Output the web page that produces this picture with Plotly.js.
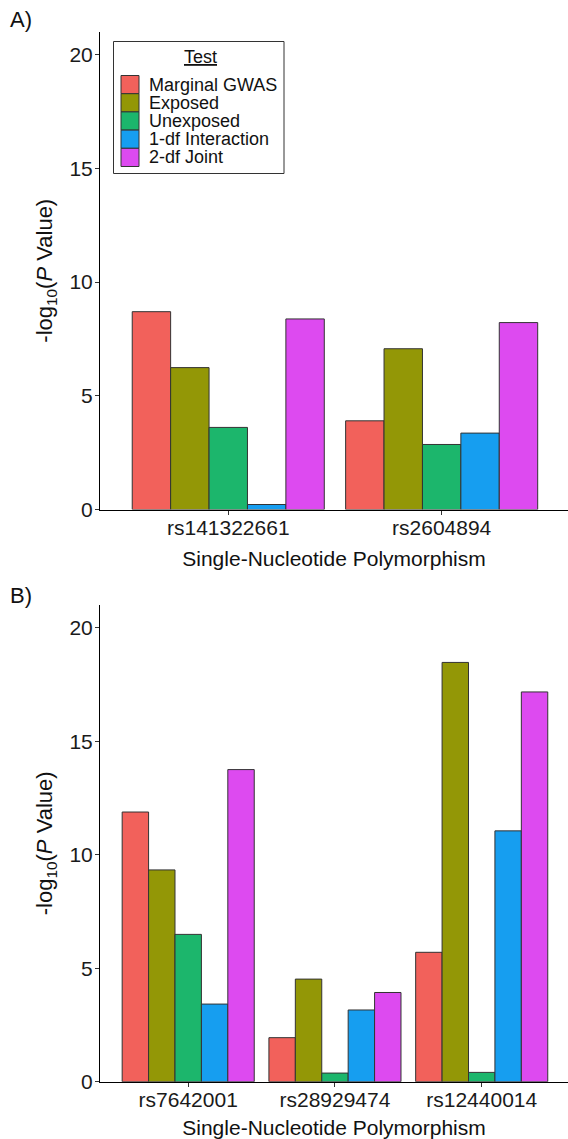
<!DOCTYPE html>
<html>
<head>
<meta charset="utf-8">
<script src="https://cdn.plot.ly/plotly-3.0.1.min.js"></script>
<style>html,body{margin:0;padding:0;background:#fff;}#chart{width:568px;height:1139px;}</style>
</head>
<body>
<div id="chart"></div>
<script>
// ---- data ----
const tests = ['Marginal GWAS', 'Exposed', 'Unexposed', '1-df Interaction', '2-df Joint'];
const colors = ['#F2615B', '#939706', '#1CB66C', '#169EF0', '#DD4AF0'];

const snpsA = ['rs141322661', 'rs2604894'];
const marginalA = [8.70, 3.90];
const exposedA = [6.24, 7.07];
const unexposedA = [3.61, 2.86];
const interactionA = [0.22, 3.36];
const jointA = [8.38, 8.22];

const snpsB = ['rs7642001', 'rs28929474', 'rs12440014'];
const marginalB = [11.88, 1.94, 5.70];
const exposedB = [9.33, 4.52, 18.47];
const unexposedB = [6.49, 0.38, 0.41];
const interactionB = [3.42, 3.16, 11.05];
const jointB = [13.75, 3.93, 17.17];

const yTicks = [0, 5, 10, 15, 20];

// ---- build ----
const seriesA = [marginalA, exposedA, unexposedA, interactionA, jointA];
const seriesB = [marginalB, exposedB, unexposedB, interactionB, jointB];
const traces = [];
tests.forEach((t, i) => {
  traces.push({
    type: 'bar', name: t, x: snpsA, y: seriesA[i], xaxis: 'x', yaxis: 'y',
    marker: {color: colors[i], line: {color: '#333333', width: 1}},
    showlegend: false, hoverinfo: 'x+y+name'
  });
  traces.push({
    type: 'bar', name: t, x: snpsB, y: seriesB[i], xaxis: 'x2', yaxis: 'y2',
    marker: {color: colors[i], line: {color: '#333333', width: 1}},
    showlegend: false, hoverinfo: 'x+y+name'
  });
});

const W = 568, H = 1139;
const fam = 'Liberation Sans, Arial, sans-serif';
const px = v => v / W;
const py = v => 1 - v / H;

function yaxis(domain, anchor) {
  return {
    domain: domain, anchor: anchor, range: [0, 21], tickvals: yTicks,
    showline: true, linecolor: '#000', linewidth: 1, mirror: false,
    ticks: 'outside', ticklen: 4, tickcolor: '#333', showgrid: false, zeroline: false,
    ticklabelstandoff: -2,
    tickfont: {family: fam, size: 21, color: '#1a1a1a'},
    title: {text: '-log<sub>10</sub>(<i>P</i> Value)', font: {family: fam, size: 22, color: '#111'}, standoff: 10},
    automargin: false, fixedrange: true
  };
}
function xaxis(domain, anchor, range) {
  return {
    domain: domain, anchor: anchor, range: range, type: 'category',
    showline: true, linecolor: '#000', linewidth: 1,
    ticks: 'outside', ticklen: 4, tickcolor: '#333', showgrid: false, zeroline: false,
    ticklabelstandoff: -5,
    tickfont: {family: fam, size: 21, color: '#1a1a1a'},
    title: {text: 'Single-Nucleotide Polymorphism', font: {family: fam, size: 21, color: '#111'}, standoff: 13},
    automargin: false, fixedrange: true
  };
}

// ---- legend drawn as shapes + text (panel A) ----
const shapes = [{
  type: 'rect', xref: 'paper', yref: 'paper',
  x0: px(113.5), x1: px(284), y0: py(173.5), y1: py(41.5),
  line: {color: '#333', width: 1}, fillcolor: '#fff', layer: 'above'
}];
const annotations = [
  {text: 'A)', x: px(8), y: py(20), xref: 'paper', yref: 'paper', xanchor: 'left', yanchor: 'middle', showarrow: false, font: {family: fam, size: 22, color: '#111'}},
  {text: 'B)', x: px(8), y: py(595), xref: 'paper', yref: 'paper', xanchor: 'left', yanchor: 'middle', showarrow: false, font: {family: fam, size: 22, color: '#111'}},
  {text: 'Test', x: px(201), y: py(57), xref: 'paper', yref: 'paper', xanchor: 'center', yanchor: 'middle', showarrow: false, font: {family: fam, size: 18, color: '#111', lineposition: 'under'}}
];
const rowTop = 75.5, rowH = 18.2;
tests.forEach((t, i) => {
  const top = rowTop + i * rowH;
  shapes.push({
    type: 'rect', xref: 'paper', yref: 'paper',
    x0: px(121), x1: px(139), y0: py(top + rowH), y1: py(top),
    line: {color: '#333', width: 1}, fillcolor: colors[i], layer: 'above'
  });
  annotations.push({
    text: t, x: px(147), y: py(top + rowH / 2), xref: 'paper', yref: 'paper',
    xanchor: 'left', yanchor: 'middle', showarrow: false,
    font: {family: fam, size: 18, color: '#111'}
  });
});

const layout = {
  width: W, height: H,
  margin: {l: 0, r: 0, t: 0, b: 0},
  paper_bgcolor: '#fff', plot_bgcolor: '#fff',
  barmode: 'group', bargap: 0.1, bargroupgap: 0,
  font: {family: fam},
  showlegend: false,
  xaxis: xaxis([px(100), 1], 'y', [-0.601, 1.592]),
  yaxis: yaxis([py(509.5), py(32)], 'x'),
  xaxis2: xaxis([px(100), 1], 'y2', [-0.601, 2.588]),
  yaxis2: yaxis([py(1081.7), py(605)], 'x2'),
  shapes: shapes,
  annotations: annotations
};

Plotly.newPlot('chart', traces, layout, {displayModeBar: false});
</script>
</body>
</html>
